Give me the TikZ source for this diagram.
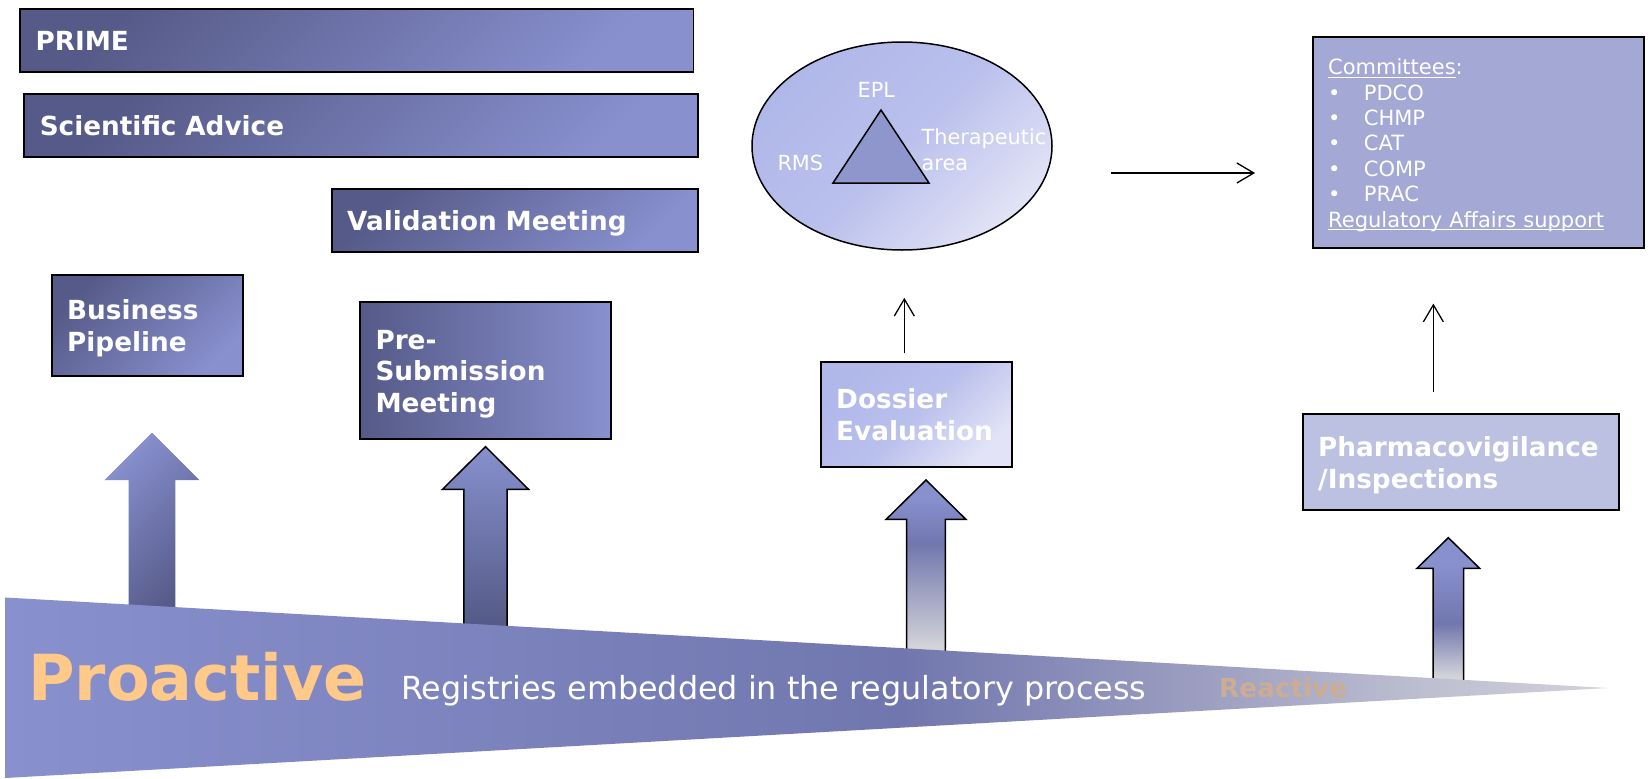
\documentclass[tikz,border=0pt]{standalone}
\usepackage{fontspec}
\setmainfont{DejaVu Sans}
\usetikzlibrary{arrows.meta}
\usetikzlibrary{shapes.geometric}

\definecolor{slatedark}{RGB}{86,90,136}
\definecolor{periwinkle}{RGB}{136,144,206}
\definecolor{lavender}{RGB}{176,184,234}
\definecolor{lavendermid}{RGB}{186,192,236}
\definecolor{lavenderpale}{RGB}{226,227,246}
\definecolor{committeeblue}{RGB}{164,168,212}
\definecolor{pvblue}{RGB}{189,193,225}
\definecolor{triblue}{RGB}{142,150,204}
\definecolor{midblue}{RGB}{113,119,174}
\definecolor{deepblue}{RGB}{80,86,128}
\definecolor{fadegray}{RGB}{211,211,217}
\definecolor{wedgegray}{RGB}{150,152,190}
\definecolor{wedgelight}{RGB}{186,187,206}
\definecolor{proorange}{RGB}{255,201,138}
\definecolor{reacttan}{RGB}{204,172,146}

% shadings: the useful part runs from 25bp to 75bp
\pgfdeclarehorizontalshading{wedgeshade}{100bp}{color(0bp)=(periwinkle); color(25bp)=(periwinkle); color(53bp)=(midblue); color(61bp)=(wedgegray); color(68.5bp)=(wedgelight); color(75bp)=(fadegray); color(100bp)=(fadegray)}
\pgfdeclareverticalshading{dossiershade}{100bp}{color(0bp)=(fadegray); color(27.6bp)=(fadegray); color(57bp)=(midblue); color(70bp)=(periwinkle); color(100bp)=(periwinkle)}
\pgfdeclareverticalshading{pvshade}{100bp}{color(0bp)=(fadegray); color(28bp)=(fadegray); color(46bp)=(midblue); color(66bp)=(periwinkle); color(100bp)=(periwinkle)}

% underline with a visible rule
\newcommand{\ulined}[1]{\leavevmode\setbox0=\hbox{#1}\rlap{\rule[-3.2pt]{\wd0}{1.2pt}}\box0}

\tikzset{
  boxframe/.style={rectangle, draw=black, line width=1.8pt, inner xsep=15.5pt, inner ysep=0pt,
    align=left, text=white, execute at end node={\strut}},
  labelbox/.style={boxframe, font=\fontsize{26.3}{31.7}\selectfont\bfseries,
    execute at begin node={\rule{0pt}{30.2pt}}},
  darkbox/.style={labelbox, top color=slatedark, bottom color=periwinkle, shading angle=45},
  palebox/.style={labelbox, top color=lavender, bottom color=lavenderpale, middle color=lavendermid, shading angle=45},
  teamlabel/.style={inner sep=0pt, text=white, font=\fontsize{20.8}{26}\selectfont},
  link/.style={line width=1.3pt, -{Straight Barb[length=17pt, width=20pt, line width=1.3pt]}},
  blockarrow/.style={shade, draw=black, line width=1.5pt},
}

\begin{document}
\begin{tikzpicture}[x=1pt, y=-1pt]
\useasboundingbox (0,0) rectangle (1652,779);

% block arrows, their feet hidden by the wedge
\path[shade, top color=periwinkle, bottom color=slatedark, shading angle=45]
  (152,432.5) -- ++(47.3,47.5) -- ++(-23.9,0) -- ++(0,135) -- ++(-46.8,0) -- ++(0,-135) -- ++(-23.9,0) -- cycle;
\path[blockarrow, top color=periwinkle, bottom color=deepblue]
  (485.5,446.7) -- ++(43,42.6) -- ++(-21.3,0) -- ++(0,150) -- ++(-43.4,0) -- ++(0,-150) -- ++(-21.3,0) -- cycle;
\path[blockarrow, shading=dossiershade]
  (926,480) -- ++(39.8,39.3) -- ++(-20.5,0) -- ++(0,137) -- ++(-38.6,0) -- ++(0,-137) -- ++(-20.5,0) -- cycle;
\path[blockarrow, shading=pvshade]
  (1448.3,537.7) -- ++(31.3,30.6) -- ++(-16,0) -- ++(0,117) -- ++(-30.6,0) -- ++(0,-117) -- ++(-16,0) -- cycle;

% wedge from proactive to reactive
\path[shade, shading=wedgeshade] (5,597.5) -- (1608,688) -- (5,778) -- cycle;
\node[anchor=base west, inner sep=0pt, text=proorange, font=\fontsize{63.5}{64}\selectfont\bfseries] (proactive) at (28,700.5) {Proactive};
\node[anchor=base west, inner sep=0pt, text=white, font=\fontsize{31.8}{32}\selectfont] (registries) at (401,699.5) {Registries embedded in the regulatory process};
\node[anchor=base west, inner sep=0pt, text=reacttan, font=\fontsize{26.3}{27}\selectfont\bfseries] (reactive) at (1219,697.3) {Reactive};

% procedure boxes
\node[darkbox, minimum width=673.5pt, minimum height=62.7pt, text width=642.5pt] (prime) at (356.75,40.35) {PRIME};
\node[darkbox, minimum width=673.7pt, minimum height=62.4pt, text width=642.7pt] (sciadv) at (361.15,125.5) {Scientific Advice};
\node[darkbox, minimum width=366.3pt, minimum height=63.3pt, text width=335.3pt] (valmeet) at (514.85,220.65) {Validation Meeting};
\node[darkbox, minimum width=191.6pt, minimum height=100.7pt, text width=160.6pt] (busipipe) at (147.5,325.35) {Business\\Pipeline};
\node[labelbox, left color=slatedark, right color=periwinkle, minimum width=251pt, minimum height=137.6pt, text width=220pt] (presub) at (485.5,370.5) {Pre-\\Submission\\Meeting};
\node[palebox, minimum width=191.6pt, minimum height=104.4pt, text width=160.6pt] (dossier) at (916.5,414.5) {Dossier\\Evaluation};
\node[labelbox, fill=pvblue, minimum width=316.3pt, minimum height=95.7pt, text width=285.3pt] (pharma) at (1460.85,462.15) {Pharmacovigilance\\/Inspections};

% assessment team
\node[ellipse, draw=black, line width=1.5pt, minimum width=300pt, minimum height=208pt, inner sep=0pt,
  top color=lavender, bottom color=lavenderpale, middle color=lavendermid, shading angle=45] (team) at (902,146) {};
\draw[fill=triblue, line width=1.5pt] (881,110) -- (929,183) -- (833,183) -- cycle;
\node[teamlabel, anchor=base] (epl) at (876.3,97.3) {EPL};
\node[teamlabel, anchor=base] (rms) at (800.3,170) {RMS};
\node[teamlabel, anchor=north west, align=left] (area) at (921.5,128) {Therapeutic\\area};

% committees
\node[boxframe, fill=committeeblue, font=\fontsize{21}{25.4}\selectfont, execute at begin node={\rule{0pt}{23.8pt}},
  minimum width=331.3pt, minimum height=211pt, text width=300.3pt] (committees) at (1478.35,142.8)
  {\ulined{Committees}:\\
   \makebox[35.7pt][l]{\textbullet}PDCO\\
   \makebox[35.7pt][l]{\textbullet}CHMP\\
   \makebox[35.7pt][l]{\textbullet}CAT\\
   \makebox[35.7pt][l]{\textbullet}COMP\\
   \makebox[35.7pt][l]{\textbullet}PRAC\\
   \ulined{Regulatory Affairs support}};

% connectors
\draw[link] ([shift={(58.5,27)}]team.east) -- ([shift={(-56.7,30.2)}]committees.west);
\draw[link] ([shift={(-12.2,-8)}]dossier.north) -- ([shift={(2.3,47)}]team.south);
\draw[link] ([shift={(-27.5,-21)}]pharma.north) -- ([shift={(-45,54.4)}]committees.south);

\end{tikzpicture}
\end{document}
